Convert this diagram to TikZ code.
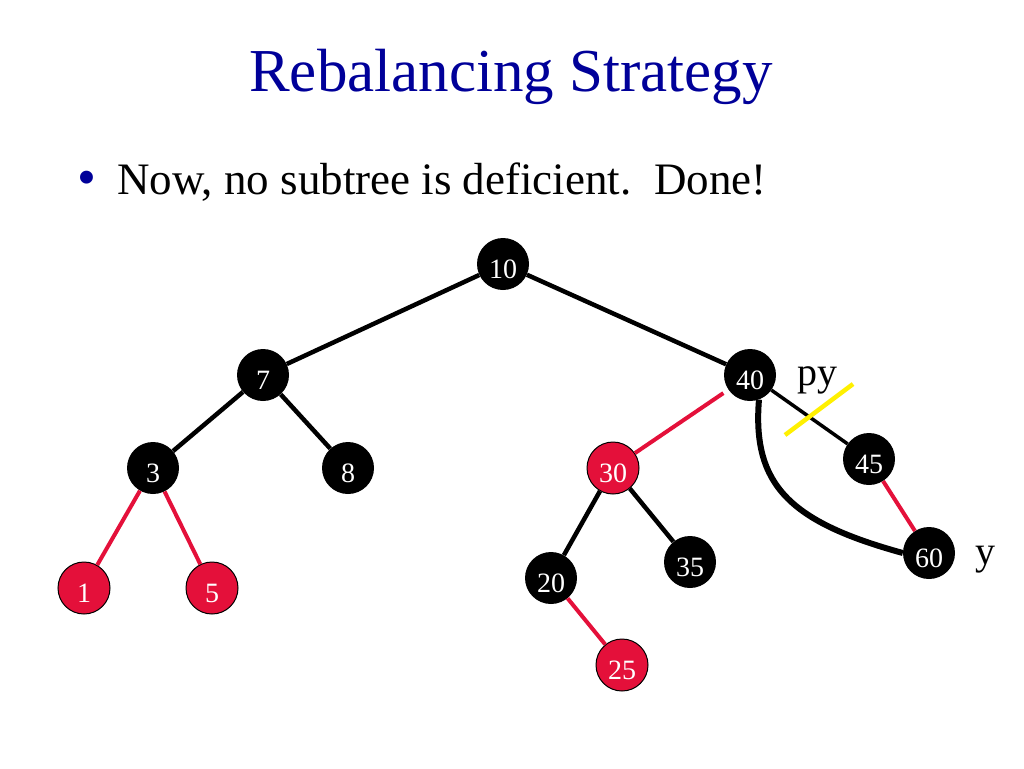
\documentclass[tikz,border=0pt]{standalone}
\usepackage{fontspec}
\setmainfont{Liberation Serif}
\usepackage{amsmath}
\usepackage{amssymb}

\definecolor{rbred}{RGB}{228,16,58}
\definecolor{rbblue}{RGB}{0,0,153}
\definecolor{rbyellow}{RGB}{255,240,0}

\tikzset{
  blk/.style={circle,fill=black,text=white,minimum size=52pt,inner sep=0pt,
    font=\fontsize{28}{28}\selectfont,text height=29pt,text depth=0pt},
  rd/.style={blk,fill=rbred,draw=black,line width=1pt},
  bedge/.style={line width=4.5pt},
  redge/.style={line width=4pt,rbred},
}

\begin{document}
\begin{tikzpicture}[x=1pt,y=-1pt]
            \useasboundingbox (0,0) rectangle (1024,768);
            \node[anchor=base,text=rbblue,font=\fontsize{61}{61}\selectfont] (title) at (511,91) {Rebalancing Strategy};
            \node[text=rbblue,font=\fontsize{54}{54}\selectfont] (bullet) at (87,183) {\textbullet};
            \node[anchor=base west,inner sep=0pt,font=\fontsize{45}{45}\selectfont] (line) at (117,194) {Now, no subtree is deficient.\ \ Done!};
            \begin{scope}[every node/.style={blk}]
                \node (n10) at (503,264) {10};
                \node (n7) at (263,375) {7};
                \node (n3) at (153,468) {3};
                \node (n8) at (348,468) {8};
                \node[rd] (n1) at (84,588) {1};
                \node[rd] (n5) at (212,588) {5};
                \node (n40) at (750,375) {40};
                \node[rd] (n30) at (613,468) {30};
                \node (n45) at (869,459) {45};
                \node (n60) at (929,553) {60};
                \node (n20) at (551,578) {20};
                \node (n35) at (690,562) {35};
                \node[rd] (n25) at (622,665) {25};
            \end{scope}
            \node[anchor=base west,inner sep=0pt,font=\fontsize{40}{40}\selectfont] (py) at (797,385) {py};
            \node[anchor=base west,inner sep=0pt,font=\fontsize{40}{40}\selectfont] (y) at (975,564) {y};
            \draw (n10) edge [bedge] (n7);
            \draw (n10) edge [bedge] (n40);
            \draw (n7) edge [bedge] (n3);
            \draw (n7) edge [bedge] (n8);
            \draw (n3) edge [redge] (n1);
            \draw (n3) edge [redge] (n5);
            \draw (n30) edge [redge, shorten >=6pt] (n40);
            \draw (n40) edge [line width=3.5pt] (n45);
            \draw (n45) edge [redge] (n60);
            \draw (n30) edge [bedge] (n20);
            \draw (n30) edge [bedge] (n35);
            \draw (n20) edge [redge] (n25);
            \draw[line width=6pt] (n40.-70) .. controls (752,485) and (790,522) .. (n60.west);
            % cut mark on the py link
            \coordinate (cutA) at (785,435);
            \coordinate (cutB) at (853,384);
            \draw[rbyellow,line width=4.5pt] (cutA) -- (cutB);
        \end{tikzpicture}
\end{document}
